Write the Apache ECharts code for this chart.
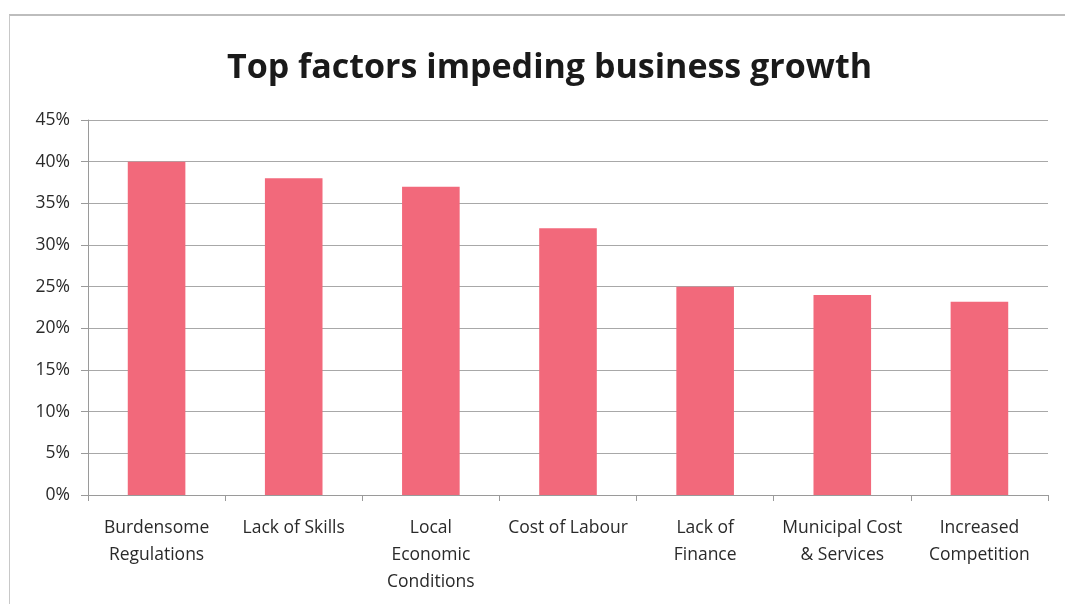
<!DOCTYPE html>
<html>
<head>
<meta charset="utf-8">
<script src="https://cdn.jsdelivr.net/npm/echarts@6/dist/echarts.min.js"></script>
<style>
  html, body { margin: 0; padding: 0; background: #ffffff; }
  #frame { position: absolute; left: 9px; top: 14px; width: 1060px; height: 600px; border-left: 1px solid #c8c8c8; border-top: 2px solid #bdbdbd; }
  #chart { position: absolute; left: 0; top: 0; width: 1065px; height: 604px; }
</style>
</head>
<body>
<div id="frame"></div>
<div id="chart"></div>
<script>
const categories = ["Burdensome\nRegulations", "Lack of Skills", "Local\nEconomic\nConditions", "Cost of Labour", "Lack of\nFinance", "Municipal Cost\n& Services", "Increased\nCompetition"];
const values = [40, 38, 37, 32, 25, 24, 23.2];
const titleText = "Top factors impeding business growth";

const chart = echarts.init(document.getElementById('chart'), null, { renderer: 'canvas' });
chart.setOption({
  backgroundColor: 'transparent',
  animation: false,
  title: {
    text: titleText,
    left: 222,
    top: 46,
    textStyle: { fontFamily: 'Open Sans', fontWeight: 'bold', fontSize: 34, color: '#1a1a1a' }
  },
  grid: { left: 88, right: 17, top: 120, bottom: 109, containLabel: false },
  xAxis: {
    type: 'category',
    data: categories,
    axisLine: { lineStyle: { color: '#9a9a9a', width: 1 } },
    axisTick: { show: true, length: 6, lineStyle: { color: '#9a9a9a' } },
    axisLabel: { fontFamily: 'Open Sans', fontSize: 17.5, color: '#2a2a2a', lineHeight: 27, margin: 20, interval: 0 }
  },
  yAxis: {
    type: 'value',
    min: 0, max: 45, interval: 5,
    axisLine: { show: true, lineStyle: { color: '#9a9a9a' } },
    axisTick: { show: true, length: 7, lineStyle: { color: '#9a9a9a' } },
    splitLine: { lineStyle: { color: '#a8a8a8', width: 1 } },
    axisLabel: { formatter: '{value}%', fontFamily: 'Open Sans', fontSize: 17.5, color: '#2a2a2a', margin: 18 }
  },
  series: [{
    type: 'bar',
    data: values,
    barWidth: '42%',
    itemStyle: { color: '#f2697b' }
  }]
});
</script>
</body>
</html>
